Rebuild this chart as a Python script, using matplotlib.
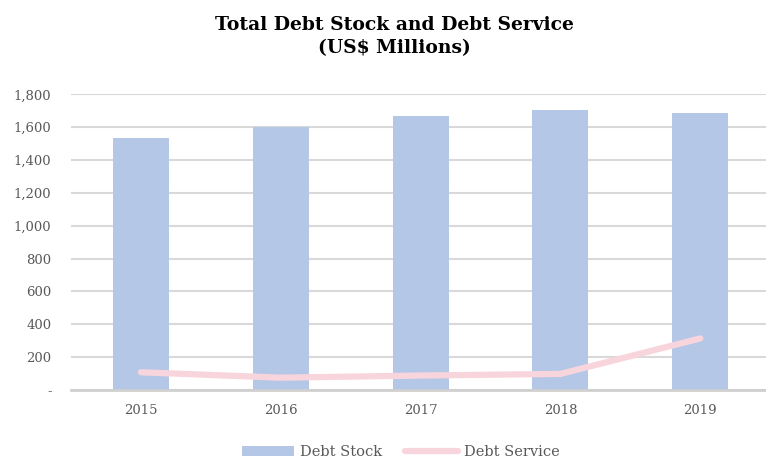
import numpy as np
import matplotlib as mpl
mpl.use('Agg')
import matplotlib.pyplot as plt
from matplotlib.ticker import FuncFormatter

years = ['2015', '2016', '2017', '2018', '2019']
debt_stock = [1537, 1600, 1668, 1707, 1688]
debt_service = [108, 75, 88, 98, 314]

bar_color = '#b4c7e7'
line_color = '#f8d5dc'
grey_text = '#595959'

plt.rcParams['font.family'] = ['DejaVu Serif']

fig = plt.figure(figsize=(7.66, 4.59), dpi=100)
ax = fig.add_axes([71 / 766, 1 - 390 / 459, 1 - 71 / 766, (390 - 94.3) / 459])

x = np.arange(len(years))
bars = ax.bar(x, debt_stock, width=0.4, color=bar_color, label='Debt Stock', zorder=2)
line, = ax.plot(x, debt_service, color=line_color, lw=4.5, solid_capstyle='round',
                solid_joinstyle='round', label='Debt Service', zorder=3)

ax.set_xlim(-0.5, 4.47)
ax.set_ylim(0, 1800)
ax.set_yticks(np.arange(0, 1801, 200))

def fmt(v, pos):
    if v == 0:
        return '-'
    return f'{int(v):,}'

ax.yaxis.set_major_formatter(FuncFormatter(fmt))
ax.set_xticks(x)
ax.set_xticklabels(years)
ax.tick_params(axis='both', length=0, labelsize=9.5, colors=grey_text)
ax.tick_params(axis='x', pad=10)
ax.tick_params(axis='y', pad=14)

ax.grid(axis='y', color='#d9d9d9', lw=1.5, zorder=0)
ax.set_axisbelow(True)
for s in ['top', 'right', 'left']:
    ax.spines[s].set_visible(False)
ax.spines['bottom'].set_color('#d0d0d0')
ax.spines['bottom'].set_linewidth(2)
ax.spines['bottom'].set_zorder(4)

fig.text(0.515, 1 - 25 / 459, 'Total Debt Stock and Debt Service', ha='center', va='center',
         fontsize=13.5, fontweight='bold', color='black')
fig.text(0.515, 1 - 48 / 459, '(US$ Millions)', ha='center', va='center',
         fontsize=13.5, fontweight='bold', color='black')

leg = fig.legend([bars, line], ['Debt Stock', 'Debt Service'], loc='center',
                 bbox_to_anchor=(0.523, 1 - 452 / 459), ncol=2, frameon=False,
                 fontsize=10.5, handlelength=3.6, columnspacing=1.6, handletextpad=0.4)
for t in leg.get_texts():
    t.set_color(grey_text)

fig.savefig('out.png', dpi=100)
